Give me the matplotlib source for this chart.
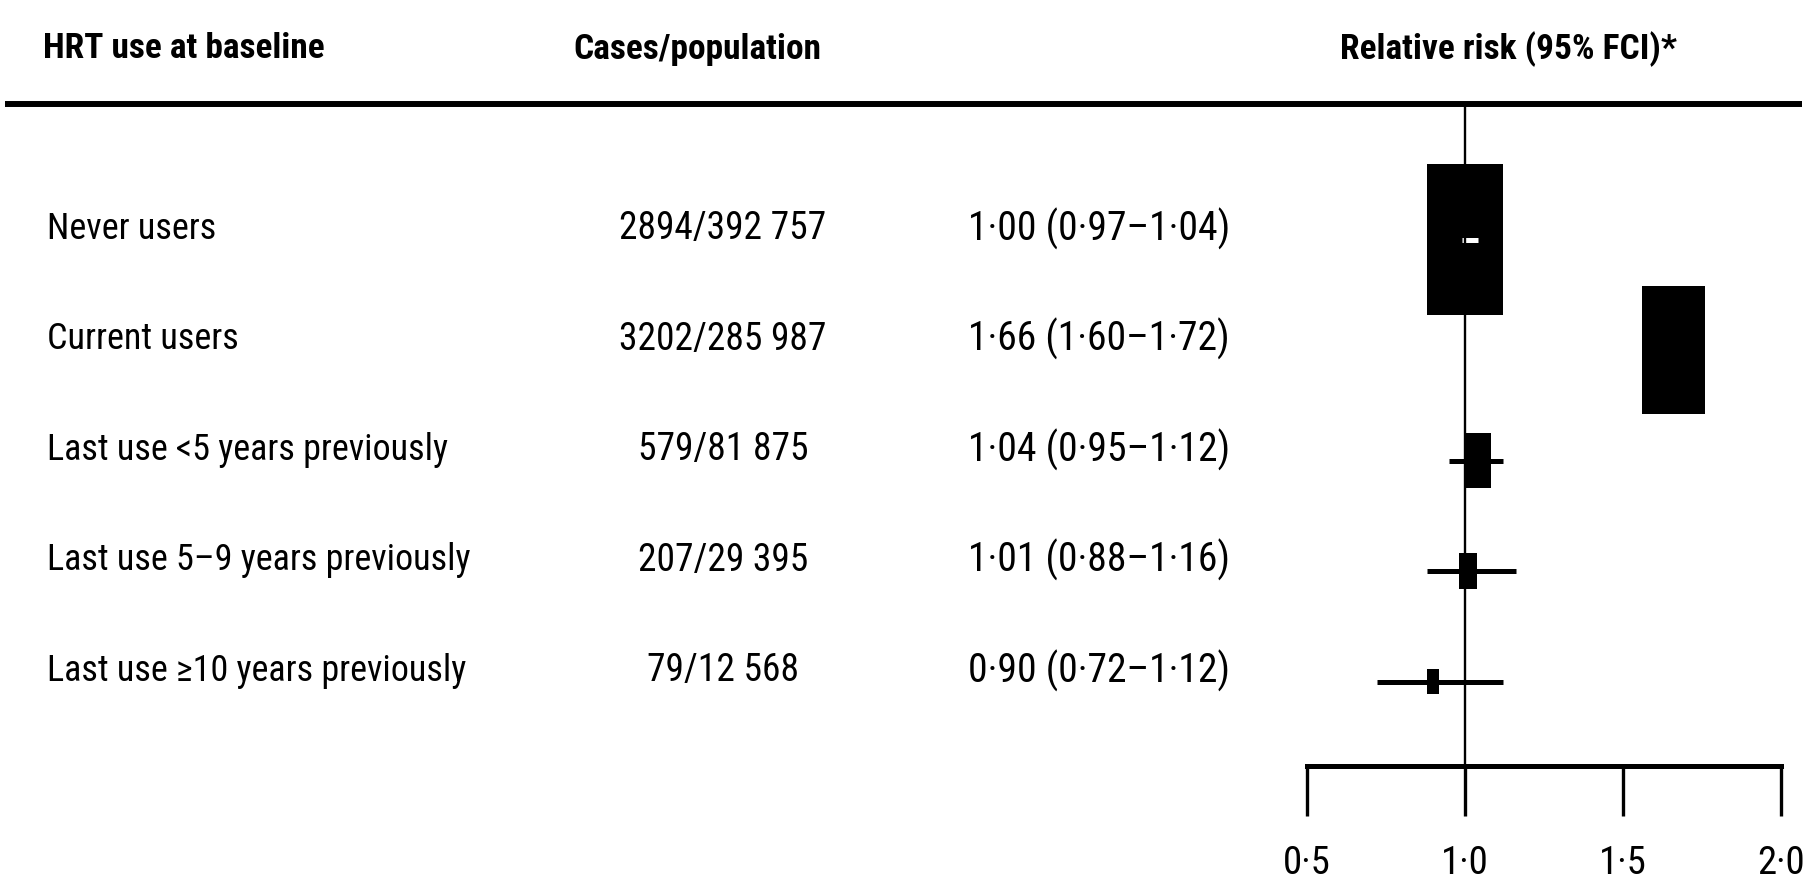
import matplotlib
matplotlib.use('Agg')
import matplotlib.pyplot as plt
from matplotlib import font_manager
from matplotlib.patches import Rectangle
from matplotlib.lines import Line2D
from matplotlib.transforms import blended_transform_factory

# pick a narrow sans that is actually installed
avail = {f.name for f in font_manager.fontManager.ttflist}
fam = 'DejaVu Sans'
for cand in ['Roboto Condensed', 'Archivo Narrow', 'PT Sans Narrow', 'Liberation Sans Narrow']:
    if cand in avail:
        fam = cand
        break
plt.rcParams['font.family'] = [fam, 'DejaVu Sans']

# data
headers = ['HRT use at baseline', 'Cases/population', 'Relative risk (95% FCI)*']
groups = ['Never users', 'Current users', 'Last use <5 years previously',
          'Last use 5\u20139 years previously', 'Last use \u226510 years previously']
cases = ['2894/392 757', '3202/285 987', '579/81 875', '207/29 395', '79/12 568']
rr = [1.00, 1.66, 1.04, 1.01, 0.90]
lo = [0.97, 1.60, 0.95, 0.88, 0.72]
hi = [1.04, 1.72, 1.12, 1.16, 1.12]
weight = [1.00, 0.84, 0.36, 0.24, 0.16]   # relative box size
ticks = [0.5, 1.0, 1.5, 2.0]
tick_labels = ['0\u00b75', '1\u00b70', '1\u00b75', '2\u00b70']

W, H = 1807, 894
fig = plt.figure(figsize=(W / 100, H / 100), dpi=100)

#__________________________________________________________
# forest panel, placed in pixels
ax_l, ax_r, ax_t, ax_b = 1280, 1807, 104, 766
ax = fig.add_axes([ax_l / W, 1 - ax_b / H, (ax_r - ax_l) / W, (ax_b - ax_t) / H])
px_x = 316.0                      # pixels per RR unit
x0 = 1 - (1465 - ax_l) / px_x
ax.set_xlim(x0, x0 + (ax_r - ax_l) / px_x)
px_y = 110.5                      # pixels per row
ytop = -(239.6 - ax_t) / px_y
ax.set_ylim(ytop + (ax_b - ax_t) / px_y, ytop)

box_scale = 0.24
for i in range(len(rr)):
    ax.plot([lo[i], hi[i]], [i, i], color='black', lw=3.6, solid_capstyle='butt', zorder=2)
    w = box_scale * weight[i]
    h = 2 * w * px_x / px_y
    ax.add_patch(Rectangle((rr[i] - w / 2, i - h / 2), w, h, facecolor='black',
                           edgecolor='none', zorder=3))
    if rr[i] == 1.0:
        # reference group: CI sits inside the box
        ax.plot([lo[i] + 0.02, hi[i]], [i, i], color='white', lw=3.6,
                solid_capstyle='butt', zorder=4)

ax.axvline(1.0, color='black', lw=1.7, zorder=5)

for s in ['top', 'right', 'left']:
    ax.spines[s].set_visible(False)
ax.spines['bottom'].set_linewidth(3.6)
ax.spines['bottom'].set_bounds(ticks[0], ticks[-1])
ax.set_yticks([])
ax.set_xticks(ticks)
ax.set_xticklabels(tick_labels, fontsize=28)
ax.tick_params(axis='x', direction='out', length=36, width=2.4, pad=21)

#__________________________________________________________
# text columns
trans = blended_transform_factory(fig.transFigure, ax.transData)
dy = -0.1
for i in range(len(groups)):
    ax.text(47 / W, i + dy, groups[i], transform=trans, fontsize=26,
            ha='left', va='center')
    ax.text(723 / W, i + dy, cases[i], transform=trans, fontsize=27,
            ha='center', va='center')
    lab = '{:.2f} ({:.2f}\u2013{:.2f})'.format(rr[i], lo[i], hi[i]).replace('.', '\u00b7')
    ax.text(968 / W, i + dy, lab, transform=trans, fontsize=28.5,
            ha='left', va='center')

hy = 1 - 49 / H
fig.text(43 / W, hy, headers[0], fontsize=25.5, fontweight='bold', ha='left', va='center')
fig.text(573 / W, hy, headers[1], fontsize=25.5, fontweight='bold', ha='left', va='center')
fig.text(1340 / W, hy, headers[2], fontsize=25.5, fontweight='bold', ha='left', va='center')

fig.add_artist(Line2D([5 / W, 1802 / W], [1 - 104 / H, 1 - 104 / H], color='black',
                      lw=4.3, solid_capstyle='butt'))

fig.savefig('out.png', dpi=100, facecolor='white')
